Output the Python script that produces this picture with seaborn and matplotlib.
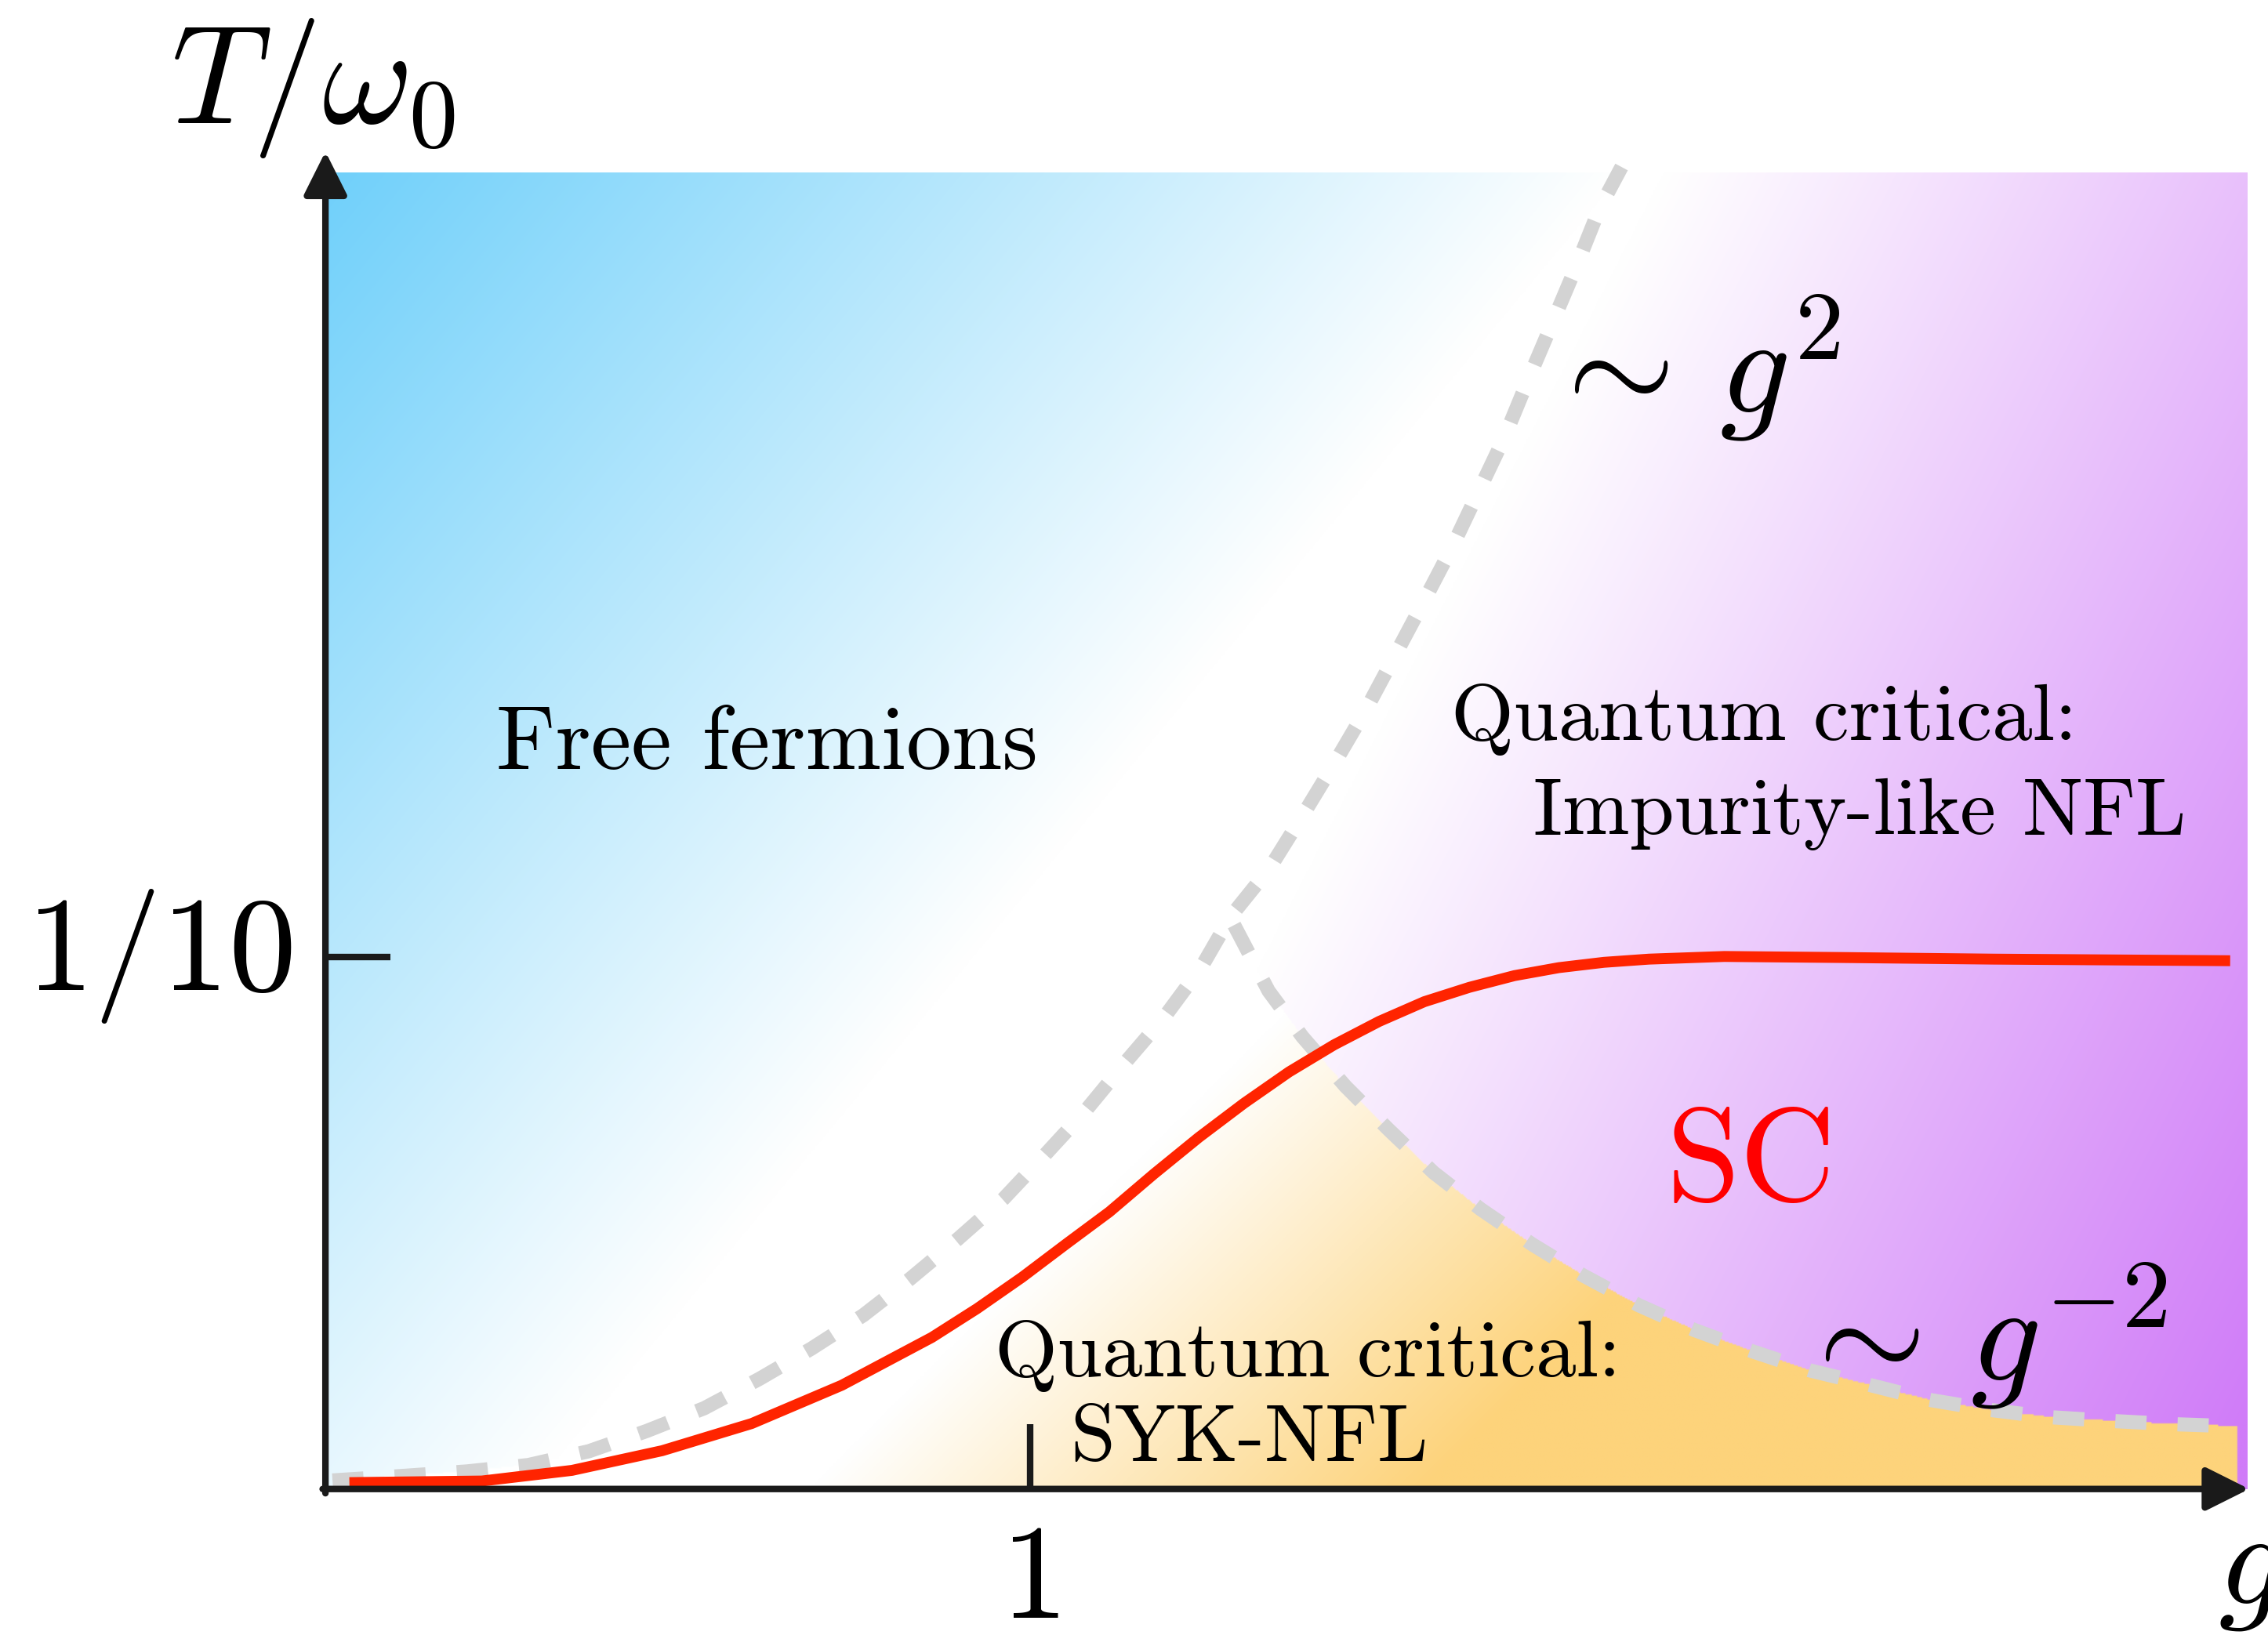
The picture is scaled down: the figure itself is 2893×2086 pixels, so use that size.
import numpy as np
import matplotlib
matplotlib.use("Agg")
import matplotlib.pyplot as plt
import seaborn as sns

# ---------------- data ----------------
# crossover ~ g^2 (grey dashed, rising branch)
g2_g = [0.010, 0.115, 0.201, 0.288, 0.374, 0.456, 0.538, 0.616, 0.690, 0.764,
        0.830, 0.897, 0.963, 1.022, 1.079, 1.135, 1.192, 1.244, 1.285, 1.341,
        1.390, 1.435, 1.478, 1.520, 1.559, 1.600, 1.637, 1.674, 1.708, 1.743,
        1.776, 1.809, 1.840]
g2_T = [0.0016, 0.0025, 0.0033, 0.0045, 0.0071, 0.0109, 0.0152, 0.0207, 0.0264, 0.0327,
        0.0395, 0.0469, 0.0546, 0.0629, 0.0711, 0.0801, 0.0889, 0.0982, 0.1076, 0.1168,
        0.1272, 0.1370, 0.1467, 0.1571, 0.1668, 0.1772, 0.1875, 0.1978, 0.2087, 0.2196,
        0.2299, 0.2408, 0.2485]
# crossover ~ g^-2 (grey dashed, falling branch)
gm2_g = [1.290, 1.339, 1.387, 1.448, 1.509, 1.573, 1.640, 1.713, 1.786, 1.865,
         1.943, 2.023, 2.107, 2.191, 2.275, 2.361, 2.448, 2.534, 2.620, 2.708]
gm2_T = [0.1060, 0.0936, 0.0850, 0.0757, 0.0676, 0.0595, 0.0526, 0.0460, 0.0401, 0.0345,
         0.0299, 0.0260, 0.0223, 0.0196, 0.0168, 0.0149, 0.0135, 0.0128, 0.0122, 0.0118]
# superconducting T_c (red)
tc_g = [0.034, 0.095, 0.222, 0.350, 0.478, 0.605, 0.733, 0.861, 0.925, 0.989,
        1.053, 1.113, 1.176, 1.240, 1.304, 1.368, 1.432, 1.496, 1.560, 1.624,
        1.688, 1.751, 1.815, 1.879, 1.986, 2.156, 2.368, 2.704]
tc_T = [0.0012, 0.0013, 0.0015, 0.0035, 0.0072, 0.0123, 0.0195, 0.0285, 0.0339, 0.0398,
        0.0462, 0.0521, 0.0592, 0.0661, 0.0725, 0.0784, 0.0835, 0.0879, 0.0916, 0.0943,
        0.0965, 0.0980, 0.0990, 0.0996, 0.1001, 0.0999, 0.0996, 0.0993]

xtick_vals = [1.0]
xtick_labels = [r"$1$"]
ytick_vals = [0.1]
ytick_labels = [r"$1/10$"]

region_labels = ["Free fermions", "Quantum critical:", "Impurity-like NFL",
                 "Quantum critical:", "SYK-NFL", "SC"]

# ---------------- style ----------------
sns.set_theme(style="white")
plt.rcParams["mathtext.fontset"] = "cm"
plt.rcParams["font.family"] = ["cmr10", "DejaVu Sans"]
plt.rcParams["axes.unicode_minus"] = False
plt.rcParams["text.color"] = "black"

W, H = 2893, 2086
fig = plt.figure(figsize=(W / 200, H / 200), dpi=200)
XMAX, YMAX = 2.75, 0.255
ax = fig.add_axes([225 / 1568, (1131 - 1030) / 1131, XMAX * 487 / 1568, YMAX * 3680 / 1131])
ax.set_xlim(0, XMAX)
ax.set_ylim(0, YMAX)
ax.axis("off")

# ---------------- coloured regions ----------------
G_RIGHT, T_TOP = 2.728, 0.2475
nx, ny = 1500, 1000
gg = np.linspace(0, G_RIGHT, nx)
tt = np.linspace(0, T_TOP, ny)
G, T = np.meshgrid(gg, tt)
xd = 225 + 487 * G
yd = 1030 - 3680 * T

g_on_curve = np.interp(T, g2_T, g2_g)
blue_mask = G < g_on_curve
bound = np.where(G < gm2_g[0], np.interp(G, g2_g, g2_T), np.interp(G, gm2_g, gm2_T))
orange_mask = (T < bound) & (G < 2.715) & ~blue_mask
purple_mask = ~blue_mask & ~orange_mask

white = np.array([255, 255, 255], float)
blue = np.array([112, 208, 250], float)
purple = np.array([208, 124, 248], float)
orange = np.array([253, 211, 123], float)

a_b = np.clip(1 - ((xd - 228) * 0.77 + (yd - 120) * 0.637) / 687, 0, 1)
a_p = np.clip(1 - ((1550 - xd) * 0.891 + (985 - yd) * 0.454) / 749, 0, 1)
a_o = np.clip(((xd - 560) + (yd - 1030)) / 1.414 / 300, 0, 1)

img = np.zeros((ny, nx, 3))
for mask, a, col in [(blue_mask, a_b, blue), (purple_mask, a_p, purple), (orange_mask, a_o, orange)]:
    c = white[None, None, :] * (1 - a[..., None]) + col[None, None, :] * a[..., None]
    img[mask] = c[mask]
ax.imshow(img / 255.0, extent=[0, G_RIGHT, 0, T_TOP], origin="lower", aspect="auto",
          interpolation="bilinear", zorder=0)

# ---------------- curves ----------------
dash = (0, (2.2, 2.2))
sns.lineplot(x=g2_g, y=g2_T, ax=ax, color="#d3d3d3", lw=6.5, sort=False, estimator=None)
sns.lineplot(x=gm2_g, y=gm2_T, ax=ax, color="#d3d3d3", lw=6.5, sort=False, estimator=None)
for ln in ax.lines:
    ln.set_linestyle(dash)
    ln.set_dash_capstyle("butt")
    ln.set_zorder(2)
sns.lineplot(x=tc_g, y=tc_T, ax=ax, color="#ff2400", lw=5.0, sort=False, estimator=None)
ax.lines[-1].set_zorder(3)
ax.lines[-1].set_solid_capstyle("butt")
ax.lines[-1].set_solid_joinstyle("round")
ax.set_xlim(0, XMAX)
ax.set_ylim(0, YMAX)

# ---------------- axes with arrows ----------------
arrow_kw = dict(arrowstyle="-|>,head_length=1.0,head_width=0.5", lw=3.0, color="k",
                shrinkA=0, shrinkB=0, mutation_scale=17)
ax.annotate("", xy=(2.731, 0), xytext=(-0.004, 0), arrowprops=arrow_kw,
            annotation_clip=False, zorder=5)
ax.annotate("", xy=(0, 0.2514), xytext=(0, -0.0008), arrowprops=arrow_kw,
            annotation_clip=False, zorder=5)

for xv, lab in zip(xtick_vals, xtick_labels):
    ax.plot([xv, xv], [0, 0.0122], color="k", lw=3.0, zorder=5, solid_capstyle="butt")
    ax.text(xv, -0.0242, lab, fontsize=62, ha="center", va="baseline", clip_on=False)
for yv, lab in zip(ytick_vals, ytick_labels):
    ax.plot([0, 0.0924], [yv, yv], color="k", lw=3.0, zorder=5, solid_capstyle="butt")
    ax.text(-0.047, 0.0938, lab, fontsize=62, ha="right", va="baseline", clip_on=False)

ax.text(-0.2197, 0.2568, r"$T/\omega_0$", fontsize=64, ha="left", va="baseline", clip_on=False)
ax.text(2.686, -0.0215, r"$g$", fontsize=62, ha="left", va="baseline", clip_on=False)

# ---------------- region labels ----------------
ax.text(0.242, 0.1353, region_labels[0], fontsize=41.7, ha="left", va="baseline", zorder=6)
ax.text(1.5975, 0.1408, region_labels[1], fontsize=37, ha="left", va="baseline", zorder=6)
ax.text(1.7146, 0.1231, region_labels[2], fontsize=37, ha="left", va="baseline", zorder=6)
ax.text(0.9507, 0.0212, region_labels[3], fontsize=37, ha="left", va="baseline", zorder=6)
ax.text(1.0575, 0.00543, region_labels[4], fontsize=37, ha="left", va="baseline", zorder=6)
ax.text(1.9035, 0.0543, region_labels[5], fontsize=61, ha="left", va="baseline",
        color="#ff0000", zorder=6)
ax.text(1.727, 0.2024, r"$\sim\,g^{2}$", fontsize=64, ha="left", va="baseline", zorder=6)
ax.text(2.083, 0.0204, r"$\sim\,g^{-2}$", fontsize=64, ha="left", va="baseline", zorder=6)

fig.savefig("out.png", dpi=200)
